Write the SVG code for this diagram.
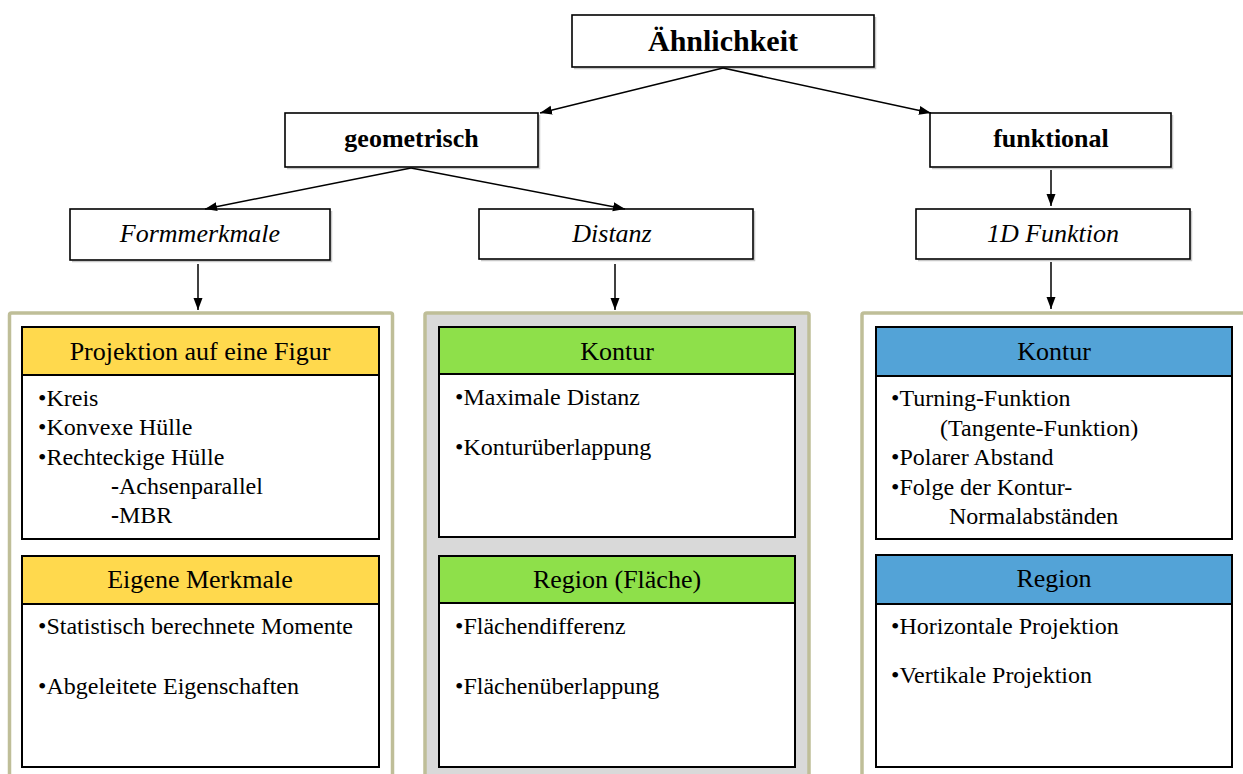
<svg xmlns="http://www.w3.org/2000/svg" width="1243" height="774" viewBox="0 0 1243 774">
<defs>
<marker id="arr" markerUnits="userSpaceOnUse" markerWidth="13" markerHeight="10" refX="12" refY="4.5" orient="auto">
<path d="M0,0 L12,4.5 L0,9 z" fill="#000"/>
</marker>
<style>
.node{fill:#fff;stroke:#000;stroke-width:1.6}
.shadow{fill:none;stroke:#c8c8c8;stroke-width:1.5}
.panel{stroke:#bfbe98;stroke-width:3.5}
.box{fill:#fff;stroke:#000;stroke-width:2}
.yel{fill:#ffd94d;stroke:#000;stroke-width:2}
.grn{fill:#8ee04a;stroke:#000;stroke-width:2}
.blu{fill:#53a3d7;stroke:#000;stroke-width:2}
.conn line{stroke:#000;stroke-width:1.5;marker-end:url(#arr)}
text{font-family:"Liberation Serif","Times New Roman",serif;fill:#000}
.b{font-weight:bold;font-size:26px;text-anchor:middle}
.big{font-size:30px}
.i{font-style:italic;font-size:26px;text-anchor:middle}
.h{font-size:26px;text-anchor:middle}
.t{font-size:24px}
</style>
</defs>
<rect width="1243" height="774" fill="#fff"/>

<g id="panel-left">
<rect class="panel" x="9.5" y="313" width="383" height="475" rx="2" fill="#fff"/>
<g id="projektion">
<rect class="box" x="22" y="375" width="357" height="164"/>
<rect class="yel" x="22" y="327" width="357" height="48"/>
<text class="h" x="200" y="360">Projektion auf eine Figur</text>
<text class="t" x="38" y="406">•Kreis</text>
<text class="t" x="38" y="435">•Konvexe Hülle</text>
<text class="t" x="38" y="465">•Rechteckige Hülle</text>
<text class="t" x="111" y="494"><tspan font-weight="bold">-</tspan>Achsenparallel</text>
<text class="t" x="111" y="523"><tspan font-weight="bold">-</tspan>MBR</text>
</g>
<g id="eigene">
<rect class="box" x="22" y="604" width="357" height="163"/>
<rect class="yel" x="22" y="556" width="357" height="48"/>
<text class="h" x="200" y="588">Eigene Merkmale</text>
<text class="t" x="38" y="634">•Statistisch berechnete Momente</text>
<text class="t" x="38" y="694">•Abgeleitete Eigenschaften</text>
</g>
</g>

<g id="panel-mid">
<rect class="panel" x="425" y="313" width="384" height="475" rx="2" fill="#d9d9d9"/>
<g id="kontur-d">
<rect class="box" x="439" y="374" width="356" height="163"/>
<rect class="grn" x="439" y="327" width="356" height="47"/>
<text class="h" x="617" y="360">Kontur</text>
<text class="t" x="455" y="405">•Maximale Distanz</text>
<text class="t" x="455" y="455">•Konturüberlappung</text>
</g>
<g id="region-d">
<rect class="box" x="439" y="603" width="356" height="164"/>
<rect class="grn" x="439" y="556" width="356" height="47"/>
<text class="h" x="617" y="588">Region (Fläche)</text>
<text class="t" x="455" y="634">•Flächendifferenz</text>
<text class="t" x="455" y="694">•Flächenüberlappung</text>
</g>
</g>

<g id="panel-right">
<rect class="panel" x="862" y="313" width="400" height="475" rx="2" fill="#fff"/>
<g id="kontur-f">
<rect class="box" x="876" y="376" width="356" height="163"/>
<rect class="blu" x="876" y="327" width="356" height="49"/>
<text class="h" x="1054" y="360">Kontur</text>
<text class="t" x="891" y="406">•Turning-Funktion</text>
<text class="t" x="940" y="436">(Tangente-Funktion)</text>
<text class="t" x="891" y="465">•Polarer Abstand</text>
<text class="t" x="891" y="495">•Folge der Kontur-</text>
<text class="t" x="949" y="524">Normalabständen</text>
</g>
<g id="region-f">
<rect class="box" x="876" y="604" width="356" height="163"/>
<rect class="blu" x="876" y="555" width="356" height="49"/>
<text class="h" x="1054" y="587">Region</text>
<text class="t" x="891" y="634">•Horizontale Projektion</text>
<text class="t" x="891" y="683">•Vertikale Projektion</text>
</g>
</g>

<g id="n-aehnlichkeit">
<path class="shadow" d="M574,68.5 H875.5 V17"/>
<rect class="node" x="572" y="15" width="302" height="52"/>
<text class="b big" x="723" y="51">Ähnlichkeit</text>
</g>
<g id="n-geometrisch">
<path class="shadow" d="M287,168.5 H539.5 V115"/>
<rect class="node" x="285" y="113" width="253" height="54"/>
<text class="b" x="411.5" y="147">geometrisch</text>
</g>
<g id="n-funktional">
<path class="shadow" d="M932,168.5 H1172.5 V115"/>
<rect class="node" x="930" y="113" width="241" height="54"/>
<text class="b" x="1051" y="147">funktional</text>
</g>
<g id="n-formmerkmale">
<path class="shadow" d="M72,261.5 H331.5 V211"/>
<rect class="node" x="70" y="209" width="260" height="51"/>
<text class="i" x="200" y="242">Formmerkmale</text>
</g>
<g id="n-distanz">
<path class="shadow" d="M481,260.5 H754.5 V211"/>
<rect class="node" x="479" y="209" width="274" height="50"/>
<text class="i" x="612" y="242">Distanz</text>
</g>
<g id="n-1d">
<path class="shadow" d="M918,260.5 H1191.5 V211"/>
<rect class="node" x="916" y="209" width="274" height="50"/>
<text class="i" x="1053" y="242">1D Funktion</text>
</g>

<g id="connectors" class="conn">
<line x1="723" y1="68" x2="540" y2="113"/>
<line x1="723" y1="68" x2="931" y2="113"/>
<line x1="411" y1="168" x2="205" y2="209"/>
<line x1="411" y1="168" x2="625" y2="209"/>
<line x1="1051" y1="170" x2="1051" y2="206"/>
<line x1="198" y1="264" x2="198" y2="310"/>
<line x1="615" y1="264" x2="615" y2="310"/>
<line x1="1051" y1="262" x2="1051" y2="309"/>
</g>
</svg>
